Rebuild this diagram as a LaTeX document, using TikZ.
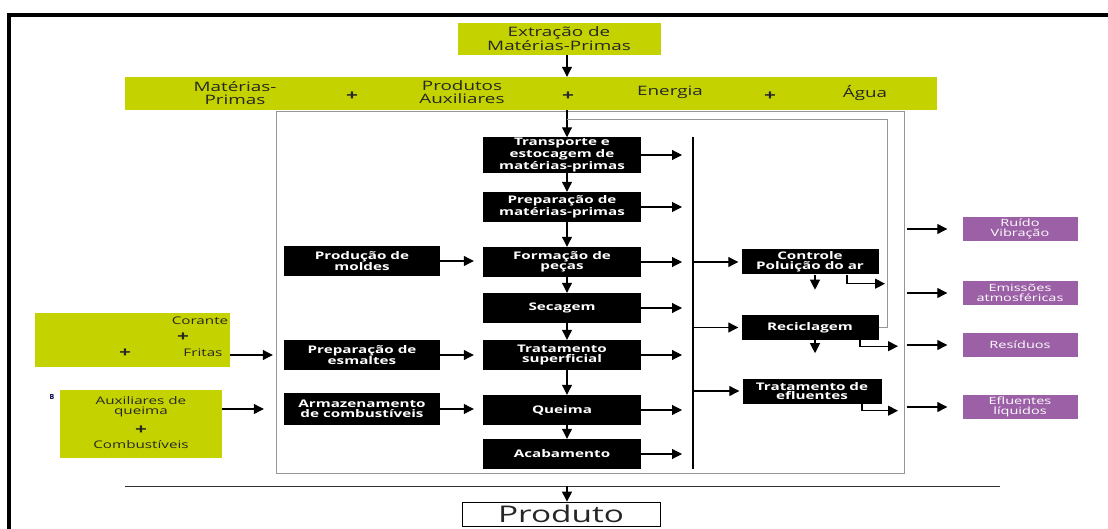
\documentclass[tikz,border=0pt]{standalone}
\usepackage{fontspec}
\setmainfont{Open Sans}
\newfontfamily\wide[FakeStretch=1.45]{Open Sans}
\usetikzlibrary{positioning,arrows.meta}
\definecolor{greenbar}{RGB}{196,211,0}
\definecolor{purplebox}{RGB}{156,96,166}
\definecolor{framegray}{RGB}{150,150,150}

\begin{document}
\begin{tikzpicture}[x=1pt, y=-1pt,
    arr/.style={-{Triangle[length=10pt,width=10pt]}, line width=1.1pt},
    procbox/.style={fill=black, text=white, align=center, inner sep=1pt,
        font=\wide\bfseries\fontsize{10.5}{9.6}\selectfont, minimum width=158pt, minimum height=30pt},
    ctrlbox/.style={procbox, minimum width=137pt, minimum height=25pt},
    outbox/.style={fill=purplebox, text=white, align=center, inner sep=1pt,
        font=\wide\fontsize{10}{10.5}\selectfont, minimum width=115pt, minimum height=24pt},
    inbox/.style={fill=greenbar, inner sep=0pt},
    intext/.style={text=black!85, align=center, inner sep=1pt, font=\wide\fontsize{10.5}{10.5}\selectfont},
    bartext/.style={text=black!85, align=center, inner sep=1pt, font=\wide\fontsize{13}{12.5}\selectfont}]
    \useasboundingbox (0,0) rectangle (1108,529);
    \draw[line width=3.5pt] (9,529) -- (9,15) -- (1108,15);

    \coordinate (axis) at (567,0);
    \node [inbox, minimum width=203pt, minimum height=32pt, bartext] (extr) at (559,39) {Extração de\\Matérias-Primas};
    \node [inbox, minimum width=812pt, minimum height=33pt] (bar) at (531,93.5) {};
    \node [bartext] (mp) at (235,93) {Matérias-\\Primas};
    \node [bartext] (plus1) at (352,96) {\bfseries\Large +};
    \node [bartext] (pa) at (462,92) {Produtos\\Auxiliares};
    \node [bartext] (plus2) at (568,96) {\bfseries\Large +};
    \node [bartext] (en) at (670,92) {Energia};
    \node [bartext] (plus3) at (770,96) {\bfseries\Large +};
    \node [bartext] (ag) at (865,93) {Água};
    \draw[arr] (extr.south -| axis) -- (bar.north -| axis);

    \node [draw=framegray, line width=1pt, minimum width=628pt, minimum height=361pt, inner sep=0pt] (plant) at (590,292.5) {};

    \node [procbox] (b1) at (562,155) {Transporte e\\estocagem de\\matérias-primas};
    \node [procbox] (b2) at (562,207) {Preparação de\\matérias-primas};
    \node [procbox] (b3) at (562,262) {Formação de\\peças};
    \node [procbox] (b4) at (562,308) {Secagem};
    \node [procbox] (b5) at (562,355) {Tratamento\\superficial};
    \node [procbox] (b6) at (562,410) {Queima};
    \node [procbox] (b7) at (562,454) {Acabamento};

    \node [procbox, minimum width=156pt] (l1) at (362,261) {Produção de\\moldes};
    \node [procbox, minimum width=156pt] (l2) at (362,355) {Preparação de\\esmaltes};
    \node [procbox, minimum width=156pt, minimum height=32pt] (l3) at (362,409) {Armazenamento\\de combustíveis};

    \draw[arr] (bar.south -| axis) -- (b1.north -| axis);
    \foreach \a/\b in {b1/b2, b2/b3, b3/b4, b4/b5, b5/b6, b6/b7}
        \draw[arr] (\a.south -| axis) -- (\b.north -| axis);
    \foreach \a/\b in {l1/b3, l2/b5, l3/b6}
        \draw[arr, shorten >=9pt] (\a.east) -- (\b.west |- \a.east);

    \coordinate (busT) at (693,137);
    \coordinate (busB) at (693,469);
    \draw[line width=1.1pt] (busT) -- (busB);
    \foreach \b in {b1, b2, b3, b4, b5, b6, b7}
        \draw[arr, shorten >=11pt] (\b.east) -- (\b.east -| busT);

    \node [ctrlbox] (r1) at (810,262) {Controle\\Poluição do ar};
    \node [ctrlbox] (r2) at (810,327.5) {Reciclagem};
    \node [ctrlbox, minimum width=139pt] (r3) at (812,391) {Tratamento de\\efluentes};
    \foreach \r in {r1, r2, r3}
        \draw[arr, shorten >=3pt] (\r.west -| busT) -- (\r.west);

    \coordinate (dn) at (815,0);
    \draw[arr] (r1.south -| dn) -- ++(0,15);
    \draw[arr] (r2.south -| dn) -- ++(0,13);
    \draw[arr] ([xshift=37pt]r1.south) |- ++(38,9);
    \draw[arr] ([xshift=50pt]r2.south) |- ++(38,6);
    \draw[arr] ([xshift=50pt]r3.south) |- ++(36,7);

    \coordinate (ret) at (887,119);
    \draw[framegray, line width=0.8pt] (r2.east) -| (ret) -- (ret -| axis);

    \node [outbox] (o1) at (1020,229) {Ruído\\Vibração};
    \node [outbox] (o2) at (1020,293) {Emissões\\atmosféricas};
    \node [outbox] (o3) at (1020,345) {Resíduos};
    \node [outbox] (o4) at (1020,407) {Efluentes\\líquidos};
    \foreach \o in {o1, o2, o3, o4}
        \draw[arr, shorten <=2pt, shorten >=15pt] (\o.west -| plant.east) -- (\o.west);

    \node [inbox, minimum width=195pt, minimum height=54pt] (g1) at (132.5,340) {};
    \node [intext] (cor) at (200,321) {Corante};
    \node [intext] (plus4) at (183,337) {\bfseries\Large +};
    \node [intext] (plus5) at (125,353) {\bfseries\Large +};
    \node [intext] (fri) at (203,353) {Fritas};
    \node [inbox, minimum width=162pt, minimum height=68pt] (g2) at (141,424) {};
    \node [intext] (aux) at (141,407) {Auxiliares de\\queima};
    \node [intext] (plus6) at (141,430) {\bfseries\Large +};
    \node [intext] (comb) at (141,445) {Combustíveis};
    \node [text=black!70!blue, inner sep=0pt, font=\bfseries\fontsize{7}{7}\selectfont] (bb) at (52,397) {B};
    \draw[arr, shorten >=11pt] (g1.east |- l2) -- (l2.west);
    \draw[arr, shorten >=20pt] (g2.east |- l3) -- (l3.west);

    \coordinate (lineL) at (125,486);
    \coordinate (lineR) at (1000,486);
    \draw[line width=0.8pt, black!80] (lineL) -- (lineR);
    \node [draw, line width=0.8pt, minimum width=198pt, minimum height=24pt, inner sep=0pt,
        font=\wide\fontsize{23}{23}\selectfont, text=black!85] (prod) at (561,514) {Produto};
    \draw[arr] (axis |- lineL) -- (prod.north -| axis);
\end{tikzpicture}
\end{document}
